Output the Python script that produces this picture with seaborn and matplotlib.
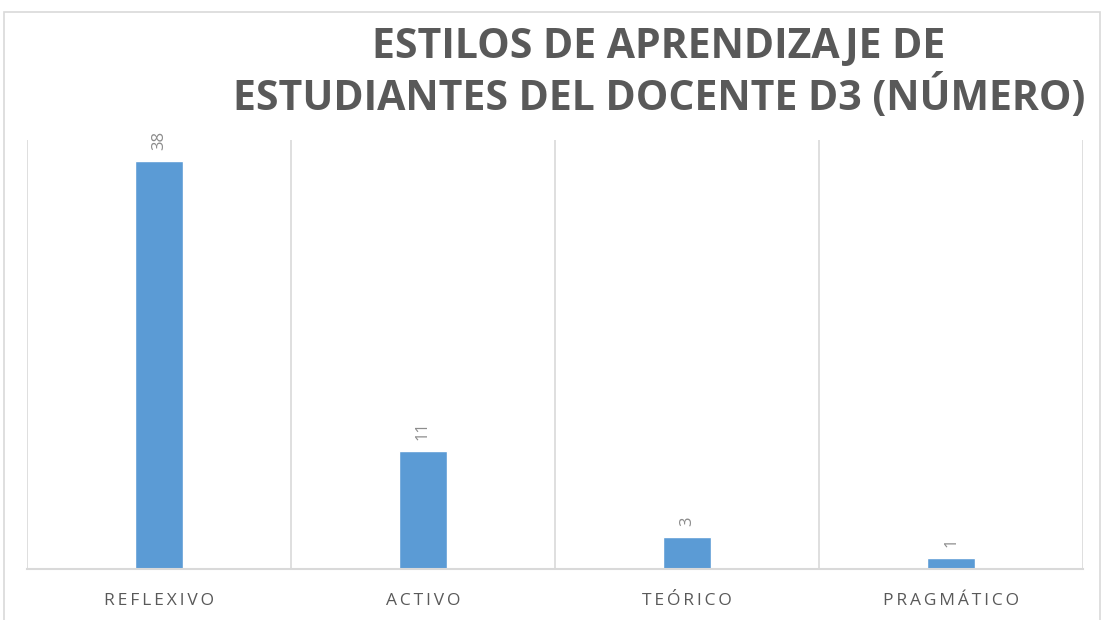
import matplotlib
matplotlib.use("Agg")
import matplotlib.pyplot as plt
import seaborn as sns
import pandas as pd
from matplotlib.patches import Rectangle

# Data
categories = ["REFLEXIVO", "ACTIVO", "TEÓRICO", "PRAGMÁTICO"]
values = [38, 11, 3, 1]
title_lines = ["ESTILOS DE APRENDIZAJE DE", "ESTUDIANTES DEL DOCENTE D3 (NÚMERO)"]

bar_color = "#5B9BD5"
text_grey = "#595959"
grid_grey = "#D9D9D9"


def spaced(s):
    # imitate the letter spacing of the axis labels with thin spaces
    return "\u2009".join(s)


df = pd.DataFrame({"estilo": categories, "n": values})

sns.set_style("white")
plt.rcParams["font.family"] = ["Open Sans", "DejaVu Sans"]

fig = plt.figure(figsize=(11.02, 6.2), dpi=100)
ax = fig.add_axes([0.0245, 0.0823, 0.9583, 0.6919])

sns.barplot(data=df, x="estilo", y="n", color=bar_color, width=0.18,
            saturation=1, ax=ax)

ax.set_ylim(0, 40)
ax.set_xlim(-0.5, len(categories) - 0.5)

# Category separators as vertical grid lines
for b in range(len(categories) + 1):
    ax.axvline(b - 0.5, color=grid_grey, lw=1.2, zorder=0)

for s in ["top", "left", "right"]:
    ax.spines[s].set_visible(False)
ax.spines["bottom"].set_color(grid_grey)
ax.spines["bottom"].set_linewidth(1.5)

ax.set_yticks([])
ax.set_xlabel("")
ax.set_ylabel("")
ax.tick_params(axis="x", length=0, pad=17)
ax.set_xticks(range(len(categories)))
ax.set_xticklabels([spaced(c) for c in categories], color=text_grey, fontsize=12.5)

# Value labels, rotated
for i, v in enumerate(values):
    ax.annotate(str(v), (i, v), xytext=(0, 8), textcoords="offset points",
                rotation=90, ha="center", va="bottom", fontsize=12,
                color="#8C8C8C")

# Title
fig.text(0.598, 0.9226, title_lines[0], ha="center", va="center",
         fontsize=29.5, fontweight="bold", color=text_grey)
fig.text(0.598, 0.842, title_lines[1], ha="center", va="center",
         fontsize=29.5, fontweight="bold", color=text_grey)

# Outer chart frame
fig.patches.append(Rectangle((4 / 1102, -0.01), 1096 / 1102, 1 - 12 / 620 + 0.01,
                             transform=fig.transFigure, fill=False,
                             edgecolor=grid_grey, lw=1.2))

fig.savefig("out.png", dpi=100)
